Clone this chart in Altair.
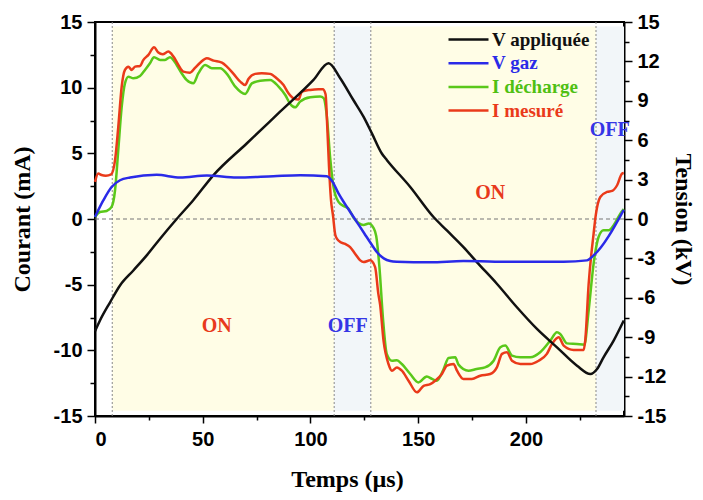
import altair as alt
import pandas as pd

# ---------------- data ----------------
series_names = ["V appliquée", "V gaz", "I décharge", "I mesuré"]
series_colors = ["#111111", "#2a2ae8", "#5ac81a", "#ea3a1a"]

# V appliquée (kV, right axis)
t_vapp = [0, 2.3, 7.0, 11.6, 17.8, 24.0, 30.2, 37.9, 45.6, 55.0, 70.4, 85.9, 101.4,
          108.4, 113.8, 119.9, 124.6, 128.5, 133.1, 135.5, 146.3, 157.1, 163.3, 171.0,
          177.2, 186.5, 195.8, 205.1, 214.4, 223.7, 229.9, 233.0, 236.0, 240.7, 245.4]
v_app = [-8.55, -7.73, -6.34, -5.06, -3.92, -2.77, -1.5, 0.0, 1.43, 3.34, 5.75, 8.17, 10.59,
         11.86, 10.72, 9.06, 7.79, 6.52, 4.99, 4.48, 2.44, 0.15, -0.87, -2.14,
         -3.28, -4.93, -6.72, -8.37, -9.77, -11.17, -11.8, -11.42, -10.53, -9.26, -7.73]

# V gaz (kV, right axis)
t_vgaz = [0, 3.9, 7.7, 11.6, 16.3, 28.6, 39.5, 51.9, 65.8, 82.8, 95.2, 107.6, 110, 113,
          116, 119, 122, 125, 128, 131, 134, 137, 140, 155.6, 171, 194.4, 217.5, 228.3,
          231.4, 245.4]
v_gaz = [0.15, 1.43, 2.44, 2.95, 3.16, 3.36, 3.16, 3.31, 3.16, 3.26, 3.33, 3.26, 2.9, 1.95,
         1.15, 0.4, -0.35, -1.1, -1.85, -2.55, -3.0, -3.2, -3.25, -3.3, -3.2, -3.26, -3.26, -3.15,
         -2.77, 0.7]

# I décharge (mA, left axis)
t_idech = [0, 2.3, 5.4, 7.7, 9.3, 10.8, 12.4, 13.9, 15.5, 17.8, 20.9, 23.2, 25.5, 27.4,
           30.2, 32.5, 34.8, 37.9, 40.2, 42.5, 45.6, 48.0, 51.1, 54.2, 58.1, 61.2, 65.1,
           69.7, 72.8, 76.7, 81.3, 85.2, 88.3, 90.6, 92.9, 95.2, 99.9, 104.5, 106.1, 107.6,
           109.1, 110.7, 113.0, 115.3, 117.6, 120.0, 122.3, 124.6, 127.0, 129.3, 130.5,
           132.0, 133.6, 135.4, 137.8, 140.1, 142.4, 146.3, 150.1, 154.0, 156.4, 158.7,
           161.8, 164.1, 167.2, 168.7, 173.3, 177.1, 181.0, 185.0, 188.1, 190.4, 193.5,
           197.4, 202.0, 206.6, 211.3, 214.4, 215.9, 219.0, 223.6, 227.1, 229.1, 231.4,
           233.7, 236.0, 238.4, 240.7, 243.8, 245.4]
i_dech = [0.15, 0.53, 0.61, 0.92, 2.19, 5.24, 8.55, 10.33, 10.84, 10.71, 10.89, 11.35, 11.86,
          12.32, 12.11, 12.11, 12.32, 11.73, 11.1, 10.59, 10.33, 11.1, 11.73, 11.48, 11.48,
          11.05, 10.08, 9.52, 10.33, 10.53, 10.59, 10.08, 9.44, 8.76, 8.5, 8.94, 9.27, 9.32,
          9.2, 7.79, 4.73, 2.44, 1.3, 1.0, 0.8, 0.1, -0.3, -0.45, -0.35, -0.7, -1.3,
          -3.66, -7.48, -10.27, -10.79, -10.75, -11.04, -11.8, -12.44, -12.0, -12.18, -12.31,
          -11.42, -10.58, -10.53, -11.09, -11.55, -11.42, -11.3, -10.79, -9.77, -9.64, -10.4,
          -10.53, -10.53, -10.15, -9.26, -8.62, -8.75, -9.47, -9.52, -9.57, -6.97, -3.4,
          -1.37, -0.86, -0.86, -0.48, 0.41, 0.75]

# I mesuré (mA, left axis)
t_imes = [0, 1.5, 3.0, 5.0, 7.5, 9.3, 10.8, 12.4, 13.9, 15.5, 17.0, 18.6, 20.9, 22.4, 24.8,
          27.4, 29.4, 31.4, 34.0, 36.4, 38.7, 41.0, 44.1, 46.4, 48.8, 51.9, 55.0, 58.9, 61.2,
          64.3, 67.4, 69.7, 71.2, 74.3, 77.4, 81.3, 84.4, 87.5, 89.8, 92.1, 94.5, 96.0, 99.9,
          103.7, 105.7, 107.0, 107.8, 108.6, 109.5, 110.5, 111.5, 112.5, 113.8, 116.1, 118.4,
          120.7, 123.1, 124.6, 127.7, 130.0, 131.5, 132.3, 133.9, 136.2, 137.8, 140.1, 142.4,
          145.5, 149.4, 152.5, 155.6, 157.9, 161.0, 163.3, 166.4, 168.0, 171.0, 174.9, 178.8,
          183.4, 186.5, 188.9, 191.2, 193.5, 197.4, 202.0, 205.9, 209.7, 212.1, 215.2, 217.5,
          222.1, 226.8, 227.5, 229.1, 231.4, 232.4, 234.5, 237.6, 240.0, 242.3, 244.6, 245.4]
i_mes = [2.83, 3.46, 3.35, 3.3, 3.4, 4.48, 7.0, 10.1, 11.35, 11.6, 11.35, 11.6, 11.65, 12.1,
         12.5, 13.08, 12.67, 12.54, 12.75, 12.37, 11.73, 11.22, 11.14, 11.5, 11.9, 12.24, 12.06,
         11.9, 11.6, 11.05, 10.46, 10.2, 10.66, 11.05, 11.1, 11.05, 10.7, 10.2, 9.57, 9.19, 9.1,
         9.7, 9.83, 9.88, 9.88, 9.5, 7.0, 4.0, 1.5, 0.2, -1.2, -1.55, -1.75, -1.9, -2.14, -2.64,
         -3.15, -3.28, -3.15, -3.66, -5.7, -6.5, -9.26, -11.04, -11.55, -11.3, -11.55, -12.31,
         -13.2, -12.7, -12.57, -12.31, -11.8, -11.17, -11.04, -11.55, -12.18, -12.18, -11.93,
         -11.8, -11.3, -10.27, -10.15, -10.79, -11.04, -11.04, -10.79, -10.27, -9.51, -9.0,
         -9.64, -9.97, -9.97, -9.26, -4.93, -1.11, 0.3, 1.68, 2.06, 2.14, 2.57, 3.46, 3.5]

# ON / OFF phases
band_start = [8, 111, 128, 232.5]
band_end = [111, 128, 232.5, 245.5]
band_state = ["ON", "OFF", "ON", "OFF"]
state_fill = {"ON": "#fffde6", "OFF": "#f2f6f9"}

# annotations
ann_label = ["ON", "OFF", "ON", "OFF"]
ann_t = [56.5, 117.3, 183.4, 238.9]
ann_v = [-8.15, -8.15, 2.0, 6.8]
ann_color = {"ON": "#e8391c", "OFF": "#3535e6"}

# ---------------- tables ----------------
def long(name, t, v):
    return pd.DataFrame({"t": t, "v": v, "series": name})

cur_df = pd.concat([long("I décharge", t_idech, i_dech), long("I mesuré", t_imes, i_mes)])
volt_df = pd.concat([long("V appliquée", t_vapp, v_app), long("V gaz", t_vgaz, v_gaz)])
band_df = pd.DataFrame({"t": band_start, "t2": band_end, "state": band_state,
                        "fill": [state_fill[s] for s in band_state]})
vline_df = pd.DataFrame({"t": band_start})
hline_df = pd.DataFrame({"v": [0]})
ann_df = pd.DataFrame({"t": ann_t, "v": ann_v, "label": ann_label,
                       "col": [ann_color[l] for l in ann_label]})

# ---------------- scales / axes ----------------
W, H = 529, 394
tick_font = "Liberation Sans"
title_font = "Liberation Serif"

xscale = alt.Scale(domain=[0, 245.5], nice=False, zero=False)
yscale = alt.Scale(domain=[-15, 15], nice=False, zero=False)

xaxis = alt.Axis(
    values=[0, 25, 50, 75, 100, 125, 150, 175, 200, 225],
    labelExpr="datum.value % 50 === 0 ? toString(datum.value) : ''",
    tickSize={"condition": {"test": "datum.value % 50 === 0", "value": 7}, "value": 4},
    title="Temps (µs)", titleX=252, titleY=70, titleBaseline="alphabetic",
    labelPadding=6,
)
yaxisL = alt.Axis(
    orient="left",
    values=[-15, -12.5, -10, -7.5, -5, -2.5, 0, 2.5, 5, 7.5, 10, 12.5, 15],
    labelExpr="datum.value % 5 === 0 ? toString(datum.value) : ''",
    tickSize={"condition": {"test": "datum.value % 5 === 0", "value": 8}, "value": 5},
    title="Courant (mA)", titleAngle=-90, titleX=-73, titleY=H / 2,
    titleAlign="center", titleBaseline="middle", labelPadding=5,
)
yaxisR = alt.Axis(
    orient="right",
    values=[i * 1.5 for i in range(-10, 11)],
    labelExpr="datum.value % 3 === 0 ? toString(datum.value) : ''",
    tickSize={"condition": {"test": "datum.value % 3 === 0", "value": 8}, "value": 5},
    title="Tension (kV)", titleAngle=90, titleX=58, titleY=H / 2,
    titleAlign="center", titleBaseline="middle", labelPadding=5,
)

label_color_expr = (
    "datum.label == 'V gaz' ? '#2a2ae8' : datum.label == 'I décharge' ? '#4fc012' : "
    "datum.label == 'I mesuré' ? '#ea3a1a' : '#111111'"
)
color_enc = alt.Color(
    "series:N",
    scale=alt.Scale(domain=series_names, range=series_colors),
    legend=alt.Legend(
        title=None, orient="none", legendX=352, legendY=7, padding=0,
        symbolType="stroke", symbolSize=1600, symbolStrokeWidth=2.5,
        labelFont=title_font, labelFontWeight="bold", labelFontSize=19,
        labelColor={"expr": label_color_expr}, labelOffset=2, rowPadding=2.7,
        clipHeight=21, labelLimit=300,
    ),
)

xenc = alt.X("t:Q", scale=xscale, axis=xaxis)
yenc = alt.Y("v:Q", scale=yscale, axis=yaxisL)

bands = alt.Chart(band_df).mark_rect().encode(
    x=xenc, x2="t2:Q",
    y=alt.Y(datum=14.65, scale=yscale, axis=yaxisL), y2=alt.Y2(datum=-14.6),
    color=alt.Color("fill:N", scale=None),
)
vlines = alt.Chart(vline_df).mark_rule(color="#888888", strokeDash=[2, 2], strokeWidth=1).encode(x=xenc)
hline = alt.Chart(hline_df).mark_rule(color="#777777", strokeDash=[4, 3], strokeWidth=1.2).encode(y=yenc)
cur_lines = alt.Chart(cur_df).mark_line(strokeWidth=2.5, interpolate="monotone").encode(
    x=xenc, y=yenc, color=color_enc, order="t:Q"
)
texts = alt.Chart(ann_df).mark_text(
    font=title_font, fontWeight="bold", fontSize=20, align="center", baseline="middle"
).encode(x=xenc, y=yenc, text="label:N", color=alt.Color("col:N", scale=None))

left = alt.layer(bands, vlines, hline, cur_lines, texts)

volt_lines = alt.Chart(volt_df).mark_line(strokeWidth=2.5, interpolate="monotone").encode(
    x=xenc, y=alt.Y("v:Q", scale=yscale, axis=yaxisR), color=color_enc, order="t:Q"
)

chart = (
    alt.layer(left, volt_lines)
    .resolve_scale(y="independent")
    .properties(
        width=W, height=H,
        autosize=alt.AutoSizeParams(type="none"),
        padding={"left": 87, "top": 14, "right": 71, "bottom": 76},
    )
    .configure_view(stroke="#000000", strokeWidth=2)
    .configure_axis(
        grid=False, zindex=1, domainColor="#000000", domainWidth=2, tickColor="#000000",
        tickWidth=1.5,
        labelFont=tick_font, labelFontWeight="bold", labelFontSize=20, labelColor="#000000",
        titleFont=title_font, titleFontWeight="bold", titleFontSize=24, titleColor="#000000",
    )
)

chart.save("out.html", embed_options={"renderer": "svg", "actions": False})
